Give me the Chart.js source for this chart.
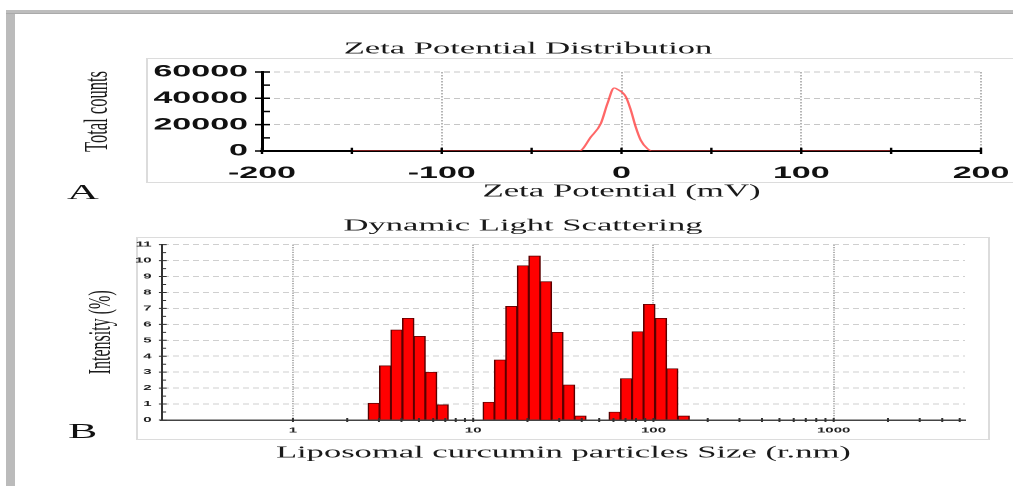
<!DOCTYPE html>
<html>
<head>
<meta charset="utf-8">
<script src="https://cdn.jsdelivr.net/npm/chart.js@4.4.1/dist/chart.umd.min.js"></script>
<style>
html, body { margin: 0; padding: 0; background: #fff; overflow: hidden; width: 1013px; height: 486px; }
/* the original figure is a horizontally stretched picture, so everything is drawn at half width and stretched */
#stretch { position: absolute; left: 0; top: 0; width: 506.5px; height: 486px; transform: scaleX(2); transform-origin: 0 0; overflow: hidden; }
.box { position: absolute; border: 1px solid #dcdcdc; }
.tag { position: absolute; font-family: 'Liberation Serif', serif; font-size: 22px; line-height: 22px; color: #111; }
canvas { position: absolute; left: 0; }
#frameL { position: absolute; left: 6px; top: 10px; width: 9px; height: 476px; background: #bbb; }
#frameT { position: absolute; left: 6px; top: 10px; width: 1007px; height: 3px; background: #bdbdbd; border-bottom: 1px solid #aaa; }
</style>
</head>
<body>
<div id="stretch">
  <div class="box" style="left:72.5px;top:58px;width:460px;height:123px"></div>
  <div class="box" style="left:68px;top:236.5px;width:424.5px;height:201.5px"></div>
  <div class="tag" style="left:33.5px;top:180.5px">A</div>
  <div class="tag" style="left:34px;top:420px">B</div>
  <canvas id="zeta" width="507" height="175" style="top:30px"></canvas>
  <canvas id="dls" width="507" height="275" style="top:205px"></canvas>
</div>
<div id="frameL"></div>
<div id="frameT"></div>

<script>
// panel A - zeta potential (mV) vs total counts
const zetaMv = [-150, -23.5, -17, -11.5, -7.8, -4.1, -2.2, 2.4, 5.2, 7.9, 10.7, 14.4, 17.2, 150];
const zetaCounts = [0, 0, 10700, 20900, 36100, 47800, 46800, 41200, 31000, 18300, 8200, 1800, 0, 0];
const zetaTicks = [-200, -100, 0, 100, 200];
const zetaMinorTicks = [-150, -50, 50, 150];
const countTicks = [0, 20000, 40000, 60000];
const countMinorTicks = [10000, 30000, 50000];

// panel B - one entry per histogram bar (size r.nm, intensity %)
const sizeNm = [2.81, 3.25, 3.76, 4.36, 5.04, 5.84, 6.76,
                12.2, 14.1, 16.3, 18.9, 21.9, 25.3, 29.3, 34.0, 39.3,
                61.0, 70.7, 81.9, 94.8, 110, 127, 147];
const intensityPct = [1.05, 3.4, 5.65, 6.38, 5.25, 3.0, 0.95,
                      1.12, 3.77, 7.13, 9.68, 10.29, 8.68, 5.5, 2.2, 0.25,
                      0.5, 2.6, 5.54, 7.26, 6.38, 3.22, 0.25];
const sizeTicks = [1, 10, 100, 1000];
const intensityTicks = [0, 1, 2, 3, 4, 5, 6, 7, 8, 9, 10, 11];

// minor tick positions (2..9 per decade, half steps on intensity)
const sizeMinorTicks = [];
sizeTicks.forEach(d => { for (let m = 2; m <= 9; m++) if (m * d < 5350) sizeMinorTicks.push(m * d); });
const intensityMinorTicks = intensityTicks.slice(0, -1).map(v => v + 0.5);

const serif = 'Liberation Serif';
const sans = 'Liberation Sans';

// draws the little tick marks crossing the axes
function tickMarks(spec) {
  return {
    id: 'tickMarks',
    afterDatasetsDraw(chart) {
      const {ctx, chartArea, scales: {x, y}} = chart;
      ctx.save();
      ctx.strokeStyle = spec.color;
      ctx.lineWidth = spec.xWidth;
      ctx.beginPath();
      spec.xAt.forEach(v => {
        const px = x.getPixelForValue(v);
        ctx.moveTo(px, chartArea.bottom - spec.xUp);
        ctx.lineTo(px, chartArea.bottom + spec.xDown);
      });
      ctx.stroke();
      ctx.lineWidth = spec.yWidth;
      ctx.beginPath();
      spec.yMajor.forEach(v => {
        const py = y.getPixelForValue(v);
        ctx.moveTo(chartArea.left - spec.yOut, py);
        ctx.lineTo(chartArea.left + spec.yIn, py);
      });
      spec.yMinor.forEach(v => {
        const py = y.getPixelForValue(v);
        ctx.moveTo(chartArea.left, py);
        ctx.lineTo(chartArea.left + spec.yMinorIn, py);
      });
      ctx.stroke();
      ctx.restore();
    }
  };
}

new Chart(document.getElementById('zeta'), {
  type: 'line',
  data: {
    datasets: [{
      data: zetaMv.map((v, i) => ({x: v, y: zetaCounts[i]})),
      borderColor: 'rgba(255,60,60,0.78)',
      borderWidth: 1.2,
      pointRadius: 0,
      cubicInterpolationMode: 'monotone',
      fill: false
    }]
  },
  options: {
    responsive: false,
    devicePixelRatio: 2,
    animation: false,
    layout: {padding: {left: 37.5, right: 16.5, top: 0, bottom: 0}},
    plugins: {
      legend: {display: false},
      tooltip: {enabled: false},
      title: {
        display: true,
        text: 'Zeta Potential Distribution',
        color: '#1a1a1a',
        font: {family: serif, size: 17.3, weight: 'normal'},
        padding: {top: 8.6, bottom: 12.6}
      }
    },
    scales: {
      x: {
        type: 'linear',
        min: -200, max: 200,
        afterBuildTicks: s => { s.ticks = zetaTicks.map(v => ({value: v})); },
        afterFit: s => { s.height = 54; s.paddingLeft = 0; s.paddingRight = 0; },
        ticks: {
          autoSkip: false, maxRotation: 0, padding: 12, color: '#111',
          font: {family: sans, size: 17, weight: 'bold'},
          callback: v => String(v)
        },
        grid: {
          drawTicks: false, lineWidth: 1,
          color: c => (c.tick && c.tick.value === -200) ? 'rgba(0,0,0,0)' : '#b5b5b5'
        },
        border: {display: true, color: '#000', width: 2, dash: [1.5, 1.5]},
        title: {
          display: true, text: 'Zeta Potential (mV)', color: '#1a1a1a',
          font: {family: serif, size: 17.4, weight: 'normal'},
          padding: {top: 0, bottom: 2.6}
        }
      },
      y: {
        min: 0, max: 60000,
        afterBuildTicks: s => { s.ticks = countTicks.map(v => ({value: v})); },
        afterFit: s => { s.width = 93.5; s.paddingTop = 0; s.paddingBottom = 0; },
        ticks: {
          padding: 7, color: '#111',
          font: {family: sans, size: 17, weight: 'bold'},
          callback: v => String(v)
        },
        grid: {
          drawTicks: false, lineWidth: 1,
          color: c => (c.tick && c.tick.value === 0) ? 'rgba(0,0,0,0)' : '#c6c6c6'
        },
        border: {display: true, color: '#000', width: 1.5, dash: [3, 2]},
        title: {
          display: true, text: 'Total counts', color: '#1a1a1a',
          font: {family: serif, size: 16.5, weight: 'normal'},
          padding: {top: 2, bottom: 0}
        }
      }
    }
  },
  plugins: [tickMarks({
    color: '#000',
    xAt: zetaTicks.concat(zetaMinorTicks), xUp: 3.3, xDown: 3, xWidth: 1.2,
    yMajor: countTicks, yMinor: countMinorTicks, yOut: 3.5, yIn: 4, yMinorIn: 4, yWidth: 1.5
  })]
});

new Chart(document.getElementById('dls'), {
  type: 'bar',
  data: {
    datasets: [{
      data: sizeNm.map((v, i) => ({x: v, y: intensityPct[i]})),
      backgroundColor: '#ff0000',
      borderColor: '#5a0000',
      borderWidth: 0.8,
      barPercentage: 1,
      categoryPercentage: 1
    }]
  },
  options: {
    responsive: false,
    devicePixelRatio: 2,
    animation: false,
    layout: {padding: {left: 40.5, right: 24.5, top: 0, bottom: 0}},
    plugins: {
      legend: {display: false},
      tooltip: {enabled: false},
      title: {
        display: true,
        text: 'Dynamic Light Scattering',
        color: '#1a1a1a',
        font: {family: serif, size: 17.3, weight: 'normal'},
        padding: {top: 10.6, bottom: 8.3}
      }
    },
    scales: {
      x: {
        type: 'logarithmic',
        min: 0.187, max: 5350,
        offset: false,
        afterBuildTicks: s => { s.ticks = sizeTicks.map(v => ({value: v})); },
        afterFit: s => { s.height = 60; s.paddingLeft = 0; s.paddingRight = 0; },
        ticks: {
          autoSkip: false, maxRotation: 0, padding: 6, color: '#222',
          font: {family: sans, size: 7.5, weight: 'bold'},
          callback: v => String(v)
        },
        grid: {drawTicks: false, offset: false, lineWidth: 1, color: '#b0b0b0'},
        border: {display: true, color: '#444', width: 1.5, dash: [1.2, 1.2]},
        title: {
          display: true, text: 'Liposomal curcumin particles Size (r.nm)', color: '#1a1a1a',
          font: {family: serif, size: 17.3, weight: 'normal'},
          padding: {top: 0, bottom: 16.6}
        }
      },
      y: {
        min: 0, max: 11,
        afterBuildTicks: s => { s.ticks = intensityTicks.map(v => ({value: v})); },
        afterFit: s => { s.width = 40.35; s.paddingTop = 0; s.paddingBottom = 0; },
        ticks: {
          padding: 5, color: '#222',
          font: {family: sans, size: 7.5, weight: 'bold'}
        },
        grid: {
          drawTicks: false, lineWidth: 1,
          color: c => (c.tick && c.tick.value === 0) ? 'rgba(0,0,0,0)' : '#cfcfcf'
        },
        border: {display: true, color: '#333', width: 1, dash: [3, 2]},
        title: {
          display: true, text: 'Intensity (%)', color: '#1a1a1a',
          font: {family: serif, size: 16, weight: 'normal'},
          padding: {top: 0.9, bottom: 0}
        }
      }
    }
  },
  plugins: [tickMarks({
    color: '#333',
    xAt: sizeTicks.concat(sizeMinorTicks), xUp: 2, xDown: 2, xWidth: 1,
    yMajor: intensityTicks, yMinor: intensityMinorTicks, yOut: 1.4, yIn: 2.5, yMinorIn: 2.2, yWidth: 1
  })]
});
</script>
</body>
</html>
